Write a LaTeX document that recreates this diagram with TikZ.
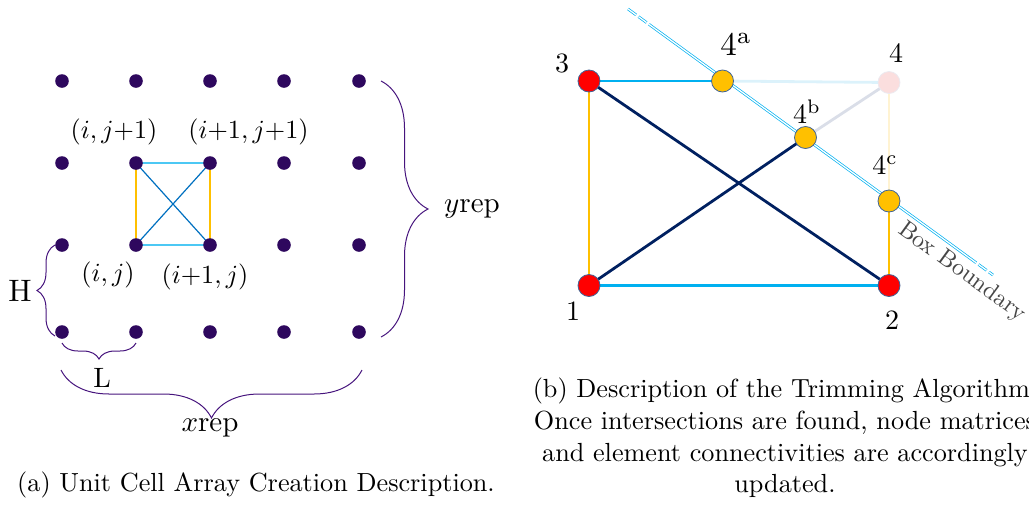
\documentclass[tikz,border=0pt]{standalone}
\usepackage{graphicx}
\usetikzlibrary{decorations.pathreplacing}
\pgfdeclarelayer{background}
\pgfsetlayers{background,main}
\definecolor{dotc}{RGB}{46,8,94}
\definecolor{bracec}{RGB}{70,20,125}
\definecolor{cyanc}{RGB}{0,176,240}
\definecolor{bluec}{RGB}{0,112,192}
\definecolor{orangec}{RGB}{255,192,0}
\definecolor{navyc}{RGB}{0,32,96}
\definecolor{rimc}{RGB}{65,100,150}
\definecolor{nredc}{RGB}{255,0,0}
\definecolor{fadecyan}{RGB}{220,242,251}
\definecolor{fadegray}{RGB}{218,222,232}
\definecolor{fadeyellow}{RGB}{255,243,210}
\definecolor{fadepink}{RGB}{251,222,222}
\definecolor{faderim}{RGB}{236,234,240}
\definecolor{textgray}{RGB}{70,70,70}
% text set at 10pt design size and scaled up
\newcommand\sz[2]{\scalebox{#1}{\fontsize{10}{12.1}\selectfont #2}}
\tikzset{
  dot/.style={circle, fill=dotc, minimum size=13.6pt, inner sep=0},
  cellh/.style={draw=cyanc!70, line width=1.5pt},
  cellv/.style={draw=orangec, line width=1.5pt},
  celld/.style={draw=bluec, line width=1.2pt},
  brc/.style={draw=bracec, line width=1pt, decorate, decoration={brace, amplitude=#1}},
  rnode/.style={circle, minimum size=22pt, inner sep=0, line width=0.8pt, draw=rimc, fill=nredc},
  onode/.style={rnode, fill=orangec},
  fnode/.style={rnode, fill=fadepink, draw=faderim},
  ecyan/.style={draw=cyanc, line width=2.8pt},
  enavy/.style={draw=navyc, line width=2.8pt},
  eorange/.style={draw=orangec, line width=2.8pt},
  efade/.style={draw=#1, line width=2.8pt},
  boxline/.style={draw=cyanc, double=white, double distance=1.3pt, line width=0.7pt},
  lbl/.style={inner sep=0}
}
\begin{document}
\begin{tikzpicture}[x=1pt,y=-1pt]
\useasboundingbox (0,0) rectangle (1029,504);
% ---------- left panel ----------
\foreach \c/\x in {1/62,2/136,3/210,4/284,5/359}
  \foreach \r/\y in {1/81,2/163,3/245,4/332}
    \node[dot] (d\c\r) at (\x,\y) {};
\begin{pgfonlayer}{background}
  \draw[cellh] (d22.center) -- (d32.center);
  \draw[cellh] (d23.center) -- (d33.center);
  \draw[cellv] (d22.center) -- (d23.center);
  \draw[cellv] (d32.center) -- (d33.center);
  \draw[celld] (d22.center) -- (d33.center);
  \draw[celld] (d32.center) -- (d23.center);
\end{pgfonlayer}
\node[lbl] (lij1) at (114,132) {\sz{2.62}{$(i,j{+}1)$}};
\node[lbl] (li1j1) at (248.5,132) {\sz{2.62}{$(i{+}1,j{+}1)$}};
\node[lbl] (lij) at (108,275) {\sz{2.62}{$(i,j)$}};
\node[lbl] (li1j) at (205,277) {\sz{2.62}{$(i{+}1,j)$}};
\draw[brc=47] (381,81) -- (381,337);
\draw[brc=18] (55,336) -- (55,245);
\draw[brc=16] (136,343) -- (62,343);
\draw[brc=48] (362,370) -- (61,370);
\node[lbl] (lH) at (20,291) {\sz{3.1}{H}};
\node[lbl] (lL) at (102,378) {\sz{2.8}{L}};
\node[lbl] (lyrep) at (472,209) {\sz{2.9}{$y\mathrm{rep}$}};
\node[lbl] (lxrep) at (210,428) {\sz{2.9}{$x\mathrm{rep}$}};
\node[lbl] (capa) at (256,485) {\sz{2.62}{(a) Unit Cell Array Creation Description.}};
% ---------- right panel ----------
\node[rnode] (n3) at (589,81) {};
\node[onode] (n4a) at (722.5,81) {};
\node[fnode] (n4) at (889,82.5) {};
\node[onode] (n4b) at (805.5,137.5) {};
\node[onode] (n4c) at (889,201) {};
\node[rnode] (n1) at (589,285.5) {};
\node[rnode] (n2) at (889,285.5) {};
\coordinate (b0) at (628,9);
\coordinate (b1) at (655,28.7);
\coordinate (b2) at (968,256.8);
\coordinate (b3) at (993,275);
\begin{pgfonlayer}{background}
  \draw[ecyan] (n3.center) -- (n4a.center);
  \draw[ecyan] (n1.center) -- (n2.center);
  \draw[efade=fadecyan] (n4a.center) -- (n4.center);
  \draw[efade=fadegray] (n4.center) -- (n4b.center);
  \draw[efade=fadeyellow, line width=2pt] (n4.center) -- (n4c.center);
  \draw[eorange] (n3.center) -- (n1.center);
  \draw[eorange] (n4c.center) -- (n2.center);
  \draw[enavy] (n3.center) -- (n2.center);
  \draw[enavy] (n1.center) -- (n4b.center);
  \draw[boxline, dash pattern=on 10pt off 3pt] (b0) -- (b1);
  \draw[boxline] (b1) -- (b2);
  \draw[boxline, dash pattern=on 10pt off 3pt] (b2) -- (b3);
\end{pgfonlayer}
\node[lbl] (l3) at (562,63) {\sz{2.8}{3}};
\node[lbl] (l4a) at (736,45) {\sz{3.3}{$4^{\mathrm{a}}$}};
\node[lbl] (l4) at (896,53) {\sz{2.8}{4}};
\node[lbl] (l4b) at (807,112) {\sz{2.8}{$4^{\mathrm{b}}$}};
\node[lbl] (l4c) at (885,165) {\sz{2.8}{$4^{\mathrm{c}}$}};
\node[lbl] (l1) at (573,311) {\sz{2.8}{1}};
\node[lbl] (l2) at (892,320) {\sz{2.8}{2}};
\node[lbl, text=textgray, rotate=-36] (lbb) at (962,272) {\sz{2.4}{Box Boundary}};
\node[lbl] (capb) at (785,439) {\sz{2.62}{\begin{tabular}{@{}c@{}}(b) Description of the Trimming Algorithm.\\Once intersections are found, node matrices\\and element connectivities are accordingly\\updated.\end{tabular}}};
\end{tikzpicture}
\end{document}
